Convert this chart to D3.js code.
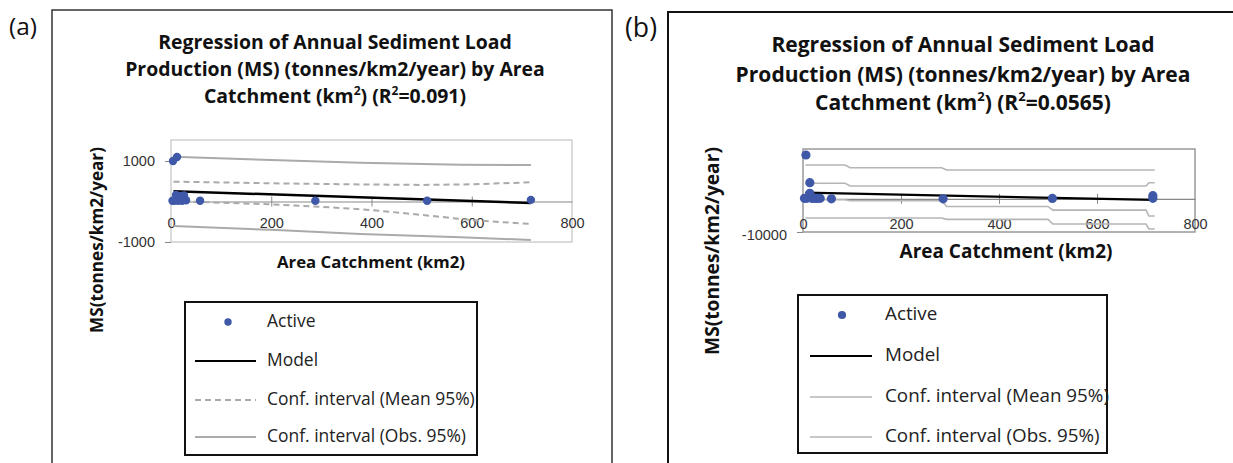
<!DOCTYPE html>
<html><head><meta charset="utf-8">
<script src="https://cdn.jsdelivr.net/npm/d3@7"></script>
<style>
body{margin:0;background:#fff;}
svg{display:block;font-family:"Open Sans",sans-serif;}
</style></head>
<body><svg id="c" width="1233" height="463"></svg>
<script>
// ---------- Panel (a) data ----------
const aActiveX = [4, 12, 3, 6, 10, 14, 18, 22, 26, 30, 58, 288, 511, 718];
const aActiveY = [1000, 1100, 20, 20, 160, 20, 140, 20, 150, 30, 20, 20, 20, 40];
const aModelX = [5, 718];
const aModelY = [255, -35];
const aMeanUpX = [5, 200, 400, 500, 600, 718];
const aMeanUpY = [490, 450, 420, 410, 425, 475];
const aMeanLoX = [5, 200, 300, 400, 500, 600, 718];
const aMeanLoY = [10, -70, -130, -210, -330, -460, -555];
const aObsUpX = [5, 200, 378, 578, 718];
const aObsUpY = [1105, 1025, 960, 910, 900];
const aObsLoX = [5, 200, 378, 578, 718];
const aObsLoY = [-605, -700, -800, -880, -950];
const aYTicks = [1000, -1000];
const aXTicks = [0, 200, 400, 600, 800];

// ---------- Panel (b) data ----------
const bActiveX = [6, 14, 14, 3, 8, 18, 22, 26, 30, 35, 58, 286, 509, 714, 714];
const bActiveY = [13200, 4850, 1650, 150, 150, 150, 150, 150, 150, 150, 0, 0, 100, 930, 150];
const bModelX = [5, 714];
const bModelY = [1850, -350];
const bObsUpX = [5, 86, 96, 283, 293, 718];
const bObsUpY = [10180, 10180, 9370, 9370, 8670, 8670];
const bMeanUpX = [5, 86, 96, 700, 706, 718];
const bMeanUpY = [4670, 4670, 3860, 3860, 4850, 4850];
const bMeanLoX = [5, 86, 96, 283, 293, 500, 510, 700, 706, 718];
const bMeanLoY = [-300, -300, -600, -600, -2300, -2300, -3400, -3400, -5200, -5200];
const bObsLoX = [5, 283, 293, 500, 510, 700, 706, 718];
const bObsLoY = [-5800, -5800, -6200, -6200, -7600, -7600, -9100, -9100];
const bYTicks = [-10000];
const bXTicks = [0, 200, 400, 600, 800];

const legendLabels = ["Active", "Model", "Conf. interval (Mean 95%)", "Conf. interval (Obs. 95%)"];

const svg = d3.select("#c");
const zip = (xs, ys) => xs.map((x, i) => [x, ys[i]]);

// scale a text's font size so that its rendered width equals target
function fit(sel, target) {
  const s = parseFloat(sel.attr("font-size"));
  const w = sel.node().getComputedTextLength();
  const ns = s * target / w;
  sel.attr("font-size", ns);
  return ns;
}

function panel(o) {
  const g = svg.append("g");
  g.append("path").attr("d", o.frame).attr("fill", "none").attr("stroke", o.frameColor).attr("stroke-width", o.frameW);
  const tag = g.append("text").attr("x", o.tagX).attr("y", o.tagY).attr("font-size", 20).attr("fill", "#111").text(o.tag);
  fit(tag, o.tagW);
  // title
  const tl = [];
  o.title.forEach((line, i) => {
    const t = g.append("text").attr("x", o.titleX).attr("y", o.titleY[i]).attr("text-anchor", "middle")
      .attr("font-weight", "bold").attr("font-size", 18).attr("fill", "#111");
    line.forEach(seg => {
      const s = t.append("tspan").text(seg.t);
      if (seg.sup) s.attr("class", "sup").attr("baseline-shift", "super");
    });
    tl.push(t);
  });
  const ts = fit(tl[1], o.titleW);
  tl.forEach(t => { t.attr("font-size", ts); t.selectAll(".sup").attr("font-size", ts * 0.62); });

  const x = d3.scaleLinear().domain([0, 800]).range([o.pl, o.pr]);
  const y = d3.scaleLinear().domain(o.yDomain).range([o.pb, o.pt]);
  g.append("rect").attr("x", o.pl).attr("y", o.pt).attr("width", o.pr - o.pl).attr("height", o.pb - o.pt)
    .attr("fill", "none").attr("stroke", o.plotBorder).attr("stroke-width", o.plotBorderW);
  const yAx = d3.axisLeft(y).tickValues(o.yTicks).tickSize(6).tickPadding(o.yPad).tickFormat(d => String(d));
  const ya = g.append("g").attr("transform", `translate(${o.pl},0)`).call(yAx);
  ya.select(".domain").remove();
  ya.selectAll("line").attr("stroke", o.axisColor);
  ya.selectAll("text").attr("font-size", o.tickSize).attr("fill", "#333").attr("dy", o.yLabDy).attr("font-family", null);
  const xAx = d3.axisBottom(x).tickValues(o.xTicks).tickSize(0).tickPadding(0).tickFormat(d => String(d));
  const xa = g.append("g").attr("transform", `translate(0,${y(0)})`).call(xAx);
  xa.select(".domain").attr("stroke", o.axisColor).attr("stroke-width", 1.2);
  xa.selectAll("text").attr("dy", 0).attr("y", o.xLabOff).attr("font-size", o.tickSize).attr("fill", "#333")
    .attr("font-family", null).attr("dominant-baseline", "middle");
  xa.selectAll(".tick").filter(d => d > 0 && d < 800).append("line")
    .attr("y1", -5).attr("y2", 5).attr("stroke", o.axisColor);
  g.attr("font-family", null);
  const line = d3.line().x(d => x(d[0])).y(d => y(d[1]));
  const ci = (xs, ys, dash) => g.append("path").datum(zip(xs, ys)).attr("d", line).attr("fill", "none")
    .attr("stroke", o.ciColor).attr("stroke-width", o.ciW).attr("stroke-dasharray", dash);
  ci(o.obsUpX, o.obsUpY, null);
  ci(o.obsLoX, o.obsLoY, null);
  ci(o.meanUpX, o.meanUpY, o.meanDash);
  ci(o.meanLoX, o.meanLoY, o.meanDash);
  g.append("path").datum(zip(o.modelX, o.modelY)).attr("d", line).attr("fill", "none")
    .attr("stroke", "#000").attr("stroke-width", o.modelW);
  g.selectAll("circle.pt").data(zip(o.activeX, o.activeY)).join("circle").attr("class", "pt")
    .attr("cx", d => x(d[0])).attr("cy", d => y(d[1])).attr("r", o.dotR).attr("fill", "#3f58a8");
  // axis titles
  const xt = g.append("text").attr("x", o.xTitleX).attr("y", o.xTitleY).attr("text-anchor", "middle")
    .attr("font-weight", "bold").attr("font-size", 16).attr("fill", "#111").text("Area Catchment (km2)");
  fit(xt, o.xTitleW);
  const yt = g.append("text").attr("transform", `translate(${o.yTitleX},${o.yTitleY}) rotate(-90)`).attr("text-anchor", "middle")
    .attr("dominant-baseline", "middle")
    .attr("font-weight", "bold").attr("font-size", 16).attr("fill", "#111").text("MS(tonnes/km2/year)");
  fit(yt, o.yTitleW);
  // legend
  const L = o.legend;
  g.append("rect").attr("x", L.x).attr("y", L.y).attr("width", L.w).attr("height", L.h)
    .attr("fill", "#fff").attr("stroke", "#111").attr("stroke-width", 2);
  let ls = null;
  legendLabels.forEach((lab, i) => {
    const yy = L.rows[i];
    if (i === 0) g.append("circle").attr("cx", L.dotX).attr("cy", yy).attr("r", o.dotR - 0.5).attr("fill", "#3f58a8");
    else g.append("line").attr("x1", L.lx1).attr("x2", L.lx2).attr("y1", yy).attr("y2", yy)
      .attr("stroke", i === 1 ? "#000" : o.ciColor).attr("stroke-width", i === 1 ? 2 : o.ciW)
      .attr("stroke-dasharray", i === 2 ? o.meanDash : null);
    const t = g.append("text").attr("class", "lg").attr("x", L.tx).attr("y", yy).attr("dominant-baseline", "middle")
      .attr("font-size", 16).attr("fill", "#222").text(lab);
    if (i === 2) ls = fit(t, L.textW);
  });
  g.selectAll("text.lg").attr("font-size", ls);
}

panel({
  frame: "M52,463 V10 H612 V463", frameColor: "#333", frameW: 1.5,
  tag: "(a)", tagX: 9, tagY: 35, tagW: 28,
  title: [[{t: "Regression of Annual Sediment Load"}],
          [{t: "Production (MS) (tonnes/km2/year) by Area"}],
          [{t: "Catchment (km"}, {t: "2", sup: true}, {t: ") (R"}, {t: "2", sup: true}, {t: "=0.091)"}]],
  titleX: 335, titleY: [49, 76, 103], titleW: 420,
  pl: 171, pr: 572, pt: 140, pb: 242, yDomain: [-1000, 1520],
  plotBorder: "#c4c4c4", plotBorderW: 1.2, axisColor: "#888",
  yTicks: aYTicks, xTicks: aXTicks, tickSize: 14.5, xLabOff: 23, yPad: 10, yLabDy: "0.32em",
  activeX: aActiveX, activeY: aActiveY, modelX: aModelX, modelY: aModelY,
  meanUpX: aMeanUpX, meanUpY: aMeanUpY, meanLoX: aMeanLoX, meanLoY: aMeanLoY,
  obsUpX: aObsUpX, obsUpY: aObsUpY, obsLoX: aObsLoX, obsLoY: aObsLoY,
  ciColor: "#aaaaaa", ciW: 2, meanDash: "6,4", modelW: 2.5, dotR: 4.2,
  xTitleX: 371, xTitleY: 268, xTitleW: 188, yTitleX: 98, yTitleY: 240, yTitleW: 186,
  legend: {x: 185, y: 302, w: 292, h: 153, rows: [322, 361, 400, 437], dotX: 228, tx: 267,
           lx1: 195, lx2: 256, textW: 208}
});

panel({
  frame: "M668,463 V12 H1240", frameColor: "#111", frameW: 2,
  tag: "(b)", tagX: 625, tagY: 37, tagW: 32,
  title: [[{t: "Regression of Annual  Sediment Load"}],
          [{t: "Production  (MS) (tonnes/km2/year) by Area"}],
          [{t: "Catchment  (km"}, {t: "2", sup: true}, {t: ") (R"}, {t: "2", sup: true}, {t: "=0.0565)"}]],
  titleX: 963, titleY: [52, 82, 110], titleW: 455,
  pl: 803, pr: 1195, pt: 149, pb: 232, yDomain: [-10000, 15000],
  plotBorder: "#999", plotBorderW: 1.5, axisColor: "#888",
  yTicks: bYTicks, xTicks: bXTicks, tickSize: 14.5, xLabOff: 26, yPad: 10, yLabDy: "0.55em",
  activeX: bActiveX, activeY: bActiveY, modelX: bModelX, modelY: bModelY,
  meanUpX: bMeanUpX, meanUpY: bMeanUpY, meanLoX: bMeanLoX, meanLoY: bMeanLoY,
  obsUpX: bObsUpX, obsUpY: bObsUpY, obsLoX: bObsLoX, obsLoY: bObsLoY,
  ciColor: "#b5b5b5", ciW: 1.6, meanDash: null, modelW: 2.2, dotR: 4.6,
  xTitleX: 1006, xTitleY: 258, xTitleW: 213, yTitleX: 714, yTitleY: 251, yTitleW: 208,
  legend: {x: 798, y: 295, w: 309, h: 158, rows: [315, 356, 397, 437], dotX: 842, tx: 885,
           lx1: 810, lx2: 872, textW: 224}
});
</script></body></html>
